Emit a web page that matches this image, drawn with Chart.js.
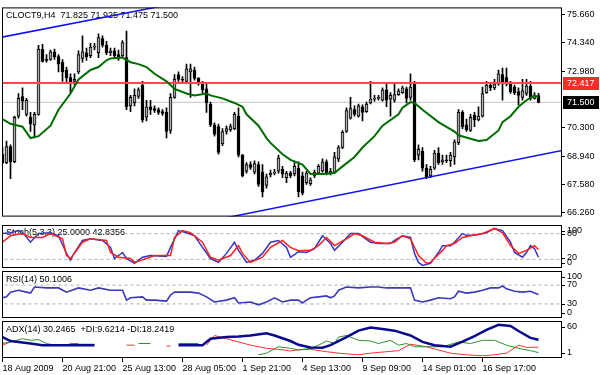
<!DOCTYPE html>
<html>
<head>
<meta charset="utf-8">
<script src="https://cdn.jsdelivr.net/npm/chart.js@4.4.0/dist/chart.umd.min.js"></script>
<style>
html, body { margin: 0; padding: 0; background: #fff; }
#wrap { position: relative; width: 600px; height: 375px; overflow: hidden; background: #fff; }
#wrap canvas { position: absolute; left: 0; }
</style>
</head>
<body>
<div id="wrap">
  <canvas id="cMain" width="600" height="224" style="top:0px"></canvas>
  <canvas id="cStoch" width="600" height="46" style="top:224px"></canvas>
  <canvas id="cRsi" width="600" height="50" style="top:270px"></canvas>
  <canvas id="cAdx" width="600" height="55" style="top:320px"></canvas>
</div>
<script>
// CLOCT9 H4 candles, one entry per bar (bar 0 = 18 Aug 2009)
const opens = [
  69.03,68.63,69.39,68.67,70.84,71.78,70.93,70.79,70.43,70.93,
  74.04,73.54,73.54,73.90,73.68,73.41,73.04,72.68,72.50,72.95,
  73.59,73.86,73.72,74.13,73.86,74.53,74.22,73.86,73.95,73.77,
  73.72,73.63,71.33,71.47,71.78,72.32,70.79,71.29,71.20,71.15,
  71.06,71.02,70.16,71.74,72.82,72.59,72.50,72.95,73.04,72.64,
  72.41,72.14,71.42,70.43,70.34,69.53,70.11,70.20,70.25,70.84,
  68.99,68.22,68.54,68.18,68.54,68.18,67.54,68.04,68.13,68.22,
  68.31,67.91,68.13,68.09,68.36,68.00,67.68,67.63,68.00,68.13,
  68.22,68.67,68.13,68.18,68.81,69.35,70.11,70.75,71.15,70.84,
  71.29,71.06,71.47,71.65,71.69,71.60,72.10,71.65,71.60,71.87,
  71.96,72.14,71.74,72.37,68.99,69.17,68.36,68.00,68.36,69.08,
  68.67,68.76,68.72,68.90,69.57,71.02,70.43,70.16,70.88,70.66,
  70.84,71.96,72.32,72.19,72.37,72.82,72.68,72.41,72.23,72.01,
  71.74,71.92,72.28,71.69,71.825
];
const highs = [
  69.35,69.66,69.48,70.84,71.92,72.19,71.69,71.02,71.02,74.22,
  74.26,73.77,73.99,74.04,73.77,73.54,73.18,72.86,72.86,73.95,
  74.67,74.08,74.31,74.31,74.76,74.67,74.40,74.08,74.08,73.99,
  74.44,74.89,71.83,72.14,72.19,72.50,71.60,71.60,71.33,71.24,
  71.15,71.24,71.92,72.82,72.95,72.73,73.32,73.32,73.18,72.68,
  72.50,72.37,71.51,70.52,70.47,70.25,70.38,70.47,71.02,71.24,
  69.03,68.63,68.67,68.72,68.67,68.54,68.09,68.27,68.31,68.99,
  68.45,68.22,68.22,68.63,68.67,68.18,68.22,67.91,68.27,68.54,
  68.81,68.76,68.36,69.12,69.44,70.16,71.24,71.74,71.33,71.42,
  71.38,71.51,72.50,71.83,71.83,72.19,72.37,71.96,72.37,72.14,
  72.28,72.23,72.86,72.50,69.48,69.35,68.54,68.45,69.21,69.35,
  68.99,68.99,69.12,69.71,71.15,71.11,70.70,70.93,71.02,71.29,
  72.23,72.50,72.41,72.59,73.04,73.13,73.13,72.50,72.32,72.19,
  72.59,72.59,72.50,71.96,71.925
];
const lows = [
  68.58,68.58,67.86,68.63,70.75,71.15,70.84,70.11,69.80,70.88,
  73.41,73.41,73.50,73.54,72.95,72.50,72.41,71.96,72.32,72.86,
  73.41,73.50,73.63,73.99,73.63,74.13,73.77,73.72,73.63,73.50,
  73.63,71.15,71.06,71.33,71.69,70.56,70.61,70.93,71.02,70.93,
  70.88,69.80,70.02,71.69,72.50,72.46,72.46,71.74,72.55,72.32,
  71.96,71.02,70.34,69.89,69.03,69.44,69.98,70.11,70.20,68.90,
  67.95,68.13,68.31,68.09,67.50,67.00,67.41,67.95,68.04,68.13,
  67.91,67.68,67.91,68.00,67.00,67.09,67.59,67.54,67.91,68.09,
  68.18,68.04,68.04,68.13,68.67,69.30,70.07,70.70,70.84,70.79,
  70.61,71.02,71.42,71.56,71.60,71.56,71.29,70.84,71.51,71.83,
  71.92,71.47,71.60,68.67,68.76,68.22,67.86,67.91,68.31,68.54,
  68.54,68.63,68.45,68.54,69.48,70.25,70.11,70.11,70.34,70.61,
  70.79,71.92,72.05,72.10,72.32,71.60,72.28,71.92,71.87,71.38,
  71.60,71.83,71.60,71.65,71.475
];
const closes = [
  68.63,69.39,68.67,70.79,71.69,71.56,71.60,70.47,70.93,74.04,
  73.45,73.50,73.90,73.68,73.32,72.95,72.68,72.46,72.59,73.77,
  73.90,73.68,74.13,74.17,74.58,74.22,73.86,73.95,73.72,73.59,
  74.35,71.29,71.74,71.83,72.10,70.66,71.29,71.15,71.11,71.02,
  70.97,70.11,71.74,72.59,72.59,72.55,73.09,73.09,72.64,72.41,
  72.10,71.47,70.43,69.98,69.12,70.11,70.25,70.34,70.93,68.99,
  68.00,68.54,68.40,68.58,67.59,67.23,67.95,68.13,68.18,68.85,
  68.09,68.13,68.00,68.45,67.23,67.18,68.13,67.81,68.18,68.45,
  68.67,68.13,68.22,68.90,69.35,70.07,71.11,71.20,70.93,71.33,
  71.02,71.42,71.65,71.69,71.74,72.10,71.60,71.83,71.87,72.05,
  72.19,71.69,72.23,68.76,69.26,68.36,67.95,68.31,69.08,68.63,
  68.76,68.72,68.99,69.62,71.02,70.34,70.20,70.79,70.66,70.84,
  71.92,72.32,72.19,72.37,72.86,72.41,72.37,72.01,71.96,71.83,
  72.05,72.28,71.69,71.83,71.500
];

// moving average (green), read at bar indexes
const maIdx = [0,2,5,7,9,12,14,17,19,22,24,26,27,30,32,34,36,38,41,43,46,48,51,52,55,58,60,61,64,66,
  67,70,72,75,77,80,83,85,88,90,93,95,99,100,102,103,105,109,113,114,119,121,124,125,127,129,131,133,134];
const maVal = [70.70,70.48,70.34,69.80,69.89,70.39,71.15,71.92,72.59,73.04,73.18,73.50,73.59,73.63,73.41,
  73.32,73.18,72.86,72.50,72.14,71.92,71.83,71.92,71.83,71.69,71.47,71.29,70.93,70.39,69.80,
  69.57,69.03,68.76,68.54,68.09,68.09,68.13,68.45,68.90,69.35,69.89,70.39,70.93,71.24,71.51,
  71.47,71.15,70.56,70.11,69.93,69.66,69.71,70.16,70.56,70.84,71.29,71.60,71.83,71.74];

// trend lines (bar index, price)
const trend1X = [-0.25, 49.5];
const trend1Y = [74.60, 76.44];
const trend2X = [50, 141];
const trend2Y = [65.78, 69.25];
const resistLevel = 72.417;
const lastPrice = 71.500;
const priceTicks = [75.66, 74.34, 72.98, 70.30, 68.94, 67.58, 66.26];

// Stochastic (5,3,3)
const stochKIdx = [0,2,4,5,7,9,12,14,16,17,18,20,22,25,27,28,30,31,33,35,37,41,42,44,46,48,50,52,54,56,
  58,59,61,63,65,67,69,71,72,74,76,78,80,82,83,85,87,89,92,94,97,98,100,102,103,104,105,107,109,110,
  112,113,115,116,118,121,123,125,127,128,130,131,132,133,134];
const stochK = [80,82,87,83,60,80,82,75,34,18,36,64,68,64,48,22,36,22,11,25,29,27,48,87,82,75,48,22,13,34,
  60,41,13,18,34,60,64,48,25,38,36,45,75,57,41,60,80,80,60,57,57,64,75,71,34,13,6,11,36,52,
  52,60,80,76,76,82,92,87,60,36,25,36,52,45,25];
const stochDIdx = [0,2,5,7,10,12,15,16,17,20,22,26,27,29,32,33,36,38,42,43,45,47,50,52,54,57,59,60,62,65,
  67,70,72,74,77,79,81,83,86,88,90,93,96,98,100,102,104,106,107,110,111,113,115,117,120,123,125,127,129,131,133,134];
const stochD = [60,75,80,71,71,80,68,29,22,60,68,64,36,25,22,13,22,29,29,71,87,82,60,25,18,29,52,34,13,25,
  48,64,48,40,41,52,71,52,68,80,75,60,57,60,75,68,29,11,13,41,52,57,71,75,80,92,82,52,34,41,52,42.84];

// RSI(14)
const rsiIdx = [0,1,2,4,6,7,8,11,14,16,19,22,24,27,30,31,32,35,36,38,41,42,43,47,49,51,53,56,58,59,
  62,64,66,68,70,72,74,75,76,77,79,81,82,83,84,86,89,92,94,96,97,100,101,102,103,105,107,109,112,113,
  114,116,118,120,122,124,125,126,128,130,132,133,134];
const rsiVal = [43,45,55,59,55,53,66,64,64,55,64,59,64,59,59,38,43,45,38,38,36,49,55,55,53,45,34,38,43,32,
  34,28,34,43,34,38,38,32,38,43,45,47,43,47,59,66,64,66,66,64,64,64,64,64,38,34,38,43,41,45,
  57,53,55,59,64,64,68,62,57,55,57,53,50.1];

// ADX(14) with +DI / -DI (null = no line drawn)
const adxIdx = [0,2,4,7,10,14,18,23,24,44,50,52,56,59,62,66,68,72,74,77,80,82,86,89,92,95,98,102,105,108,
  112,115,118,121,124,127,129,132,134];
const adxVal = [34.3,28.1,26.6,24.1,21.5,21.5,21.5,21.5,null,21.5,21.5,31.8,34.3,35.3,36.9,40.4,36.9,28.1,22,17.9,
  17.3,21.5,34.3,44.6,49.7,47.2,44.6,36.9,26.6,21.5,18.9,27,36,46,54,52,44,33,30.25];
const pdiIdx = [0,3,5,7,9,11,13,14,19,23,24,34,37,38,44,49,50,64,66,69,72,74,77,79,81,83,84,86,89,92,
  94,97,99,101,103,106,110,114,117,120,123,126,129,132,134];
const pdiVal = [24,28,31.8,29.2,30.3,24.1,21.5,null,23,23,null,24.1,24.1,null,24.1,24.1,null,6.1,8.7,18.9,
  16.4,13.8,16.4,21.5,28.1,24.1,34.3,36.9,29.2,28.1,24.1,29.2,21.5,24.1,18.9,18.9,18.9,26.6,24.1,29.2,
  29.2,21.5,16.4,12.7,9.62];
const mdiIdx = [0,2,3,13,16,17,19,20,31,33,34,41,42,43,51,53,56,59,62,66,69,72,74,77,81,84,89,92,96,99,
  102,106,109,112,116,120,123,126,129,131,134];
const mdiVal = [21.5,26.6,null,21.5,21.5,24.1,24.1,null,21.5,21.5,null,20,20,null,21.5,36.9,31.8,26.6,21.5,16.4,
  14.8,12.2,14,14.8,11.1,8.7,6.1,8.7,11.1,12.7,23,18.9,13.8,8.7,6.1,4.5,6.1,8.7,21.5,17.9,18.24];

// time axis
const timeBars = [0, 15, 30, 45, 60, 75, 90, 105, 120];
const timeLabels = ['18 Aug 2009','20 Aug 21:00','25 Aug 13:00','28 Aug 05:00','1 Sep 21:00',
  '4 Sep 13:00','9 Sep 09:00','14 Sep 01:00','16 Sep 17:00'];

Chart.defaults.font.family = '"Liberation Sans", Arial, sans-serif';
Chart.defaults.font.size = 9;
Chart.defaults.color = '#000';

const FONT = '9px "Liberation Sans", Arial, sans-serif';
const X_MIN = -0.125, X_MAX = 139.875;
const spanX = [-1, 141];

function pts(xs, ys) { return xs.map((x, k) => ({ x: x, y: ys[k] })); }
function line(data, color, width, extra) {
  return Object.assign({ type: 'line', data: data, borderColor: color, borderWidth: width,
    pointRadius: 0, fill: false, tension: 0, spanGaps: false }, extra || {});
}

// panel frame, titles, right side labels
const mtPanel = {
  id: 'mtPanel',
  beforeDatasetsDraw(chart, args, o) {
    if (!o.title) return;
    const ctx = chart.ctx, a = chart.chartArea;
    ctx.save();
    ctx.font = FONT; ctx.fillStyle = '#000'; ctx.textBaseline = 'middle';
    ctx.fillText(o.title, a.left + 4, a.top + o.titleDy);
    ctx.restore();
  },
  afterDraw(chart, args, o) {
    const ctx = chart.ctx, a = chart.chartArea, ys = chart.scales.y;
    ctx.save();
    ctx.strokeStyle = '#000'; ctx.lineWidth = 1;
    ctx.strokeRect(a.left + 0.5, a.top + 0.5, a.right - a.left - 1, a.bottom - a.top - 1);
    ctx.font = FONT; ctx.textBaseline = 'middle'; ctx.fillStyle = '#000';
    (o.side || []).forEach(s => {
      const py = Math.round(ys.getPixelForValue(s.v) + s.dy);
      ctx.beginPath(); ctx.moveTo(a.right, py + 0.5); ctx.lineTo(a.right + 3, py + 0.5); ctx.stroke();
      ctx.fillText(s.t, a.right + 5, py);
    });
    (o.boxes || []).forEach(b => {
      const py = Math.round(ys.getPixelForValue(b.v));
      ctx.fillStyle = b.bg; ctx.fillRect(a.right + 1, py - 6, 36, 13);
      ctx.fillStyle = '#fff'; ctx.fillText(b.t, a.right + 5, py + 0.5);
    });
    ctx.restore();
  }
};

function hiddenX() {
  return { type: 'linear', min: X_MIN, max: X_MAX, offset: false, display: false,
    grid: { offset: false } };
}
function sideY(min, max) {
  return { position: 'right', min: min, max: max, afterFit: s => { s.width = 38; },
    ticks: { display: false }, grid: { display: false }, border: { display: false } };
}
function baseOptions(pad, scales, plug) {
  return {
    responsive: false, animation: false, events: [],
    layout: { padding: pad },
    plugins: { legend: { display: false }, tooltip: { enabled: false }, mtPanel: plug },
    scales: scales
  };
}

// main price panel
const bodyColors = opens.map((o, i) => closes[i] >= o ? '#a9a9a9' : '#000000');
new Chart(document.getElementById('cMain'), {
  type: 'bar',
  data: { datasets: [
    line(pts(maIdx, maVal), '#006c00', 2, { order: 0 }),
    line(pts(trend1X, trend1Y), '#1010ff', 1.5, { order: 1 }),
    line(pts(trend2X, trend2Y), '#1010ff', 1.5, { order: 1 }),
    line(pts(spanX, [resistLevel, resistLevel]), '#ff4848', 2, { order: 2 }),
    { type: 'bar', data: opens.map((o, i) => ({ x: i, y: [o, closes[i]] })),
      backgroundColor: bodyColors, borderColor: '#000', borderWidth: 1, borderSkipped: false,
      barThickness: 3, grouped: false, minBarLength: 1, order: 3 },
    { type: 'bar', data: lows.map((l, i) => ({ x: i, y: [l, highs[i]] })),
      backgroundColor: '#000', barThickness: 1, grouped: false, order: 4 },
    line(pts(spanX, [lastPrice, lastPrice]), '#c4c4c4', 1, { order: 5 })
  ]},
  options: baseOptions({ left: 2, top: 2, right: 0, bottom: 1 }, {
    x: hiddenX(),
    y: { position: 'right', min: 66.06, max: 76.02,
      afterFit: s => { s.width = 38; },
      afterBuildTicks: s => { s.ticks = priceTicks.map(v => ({ value: v })); },
      ticks: { color: '#000', padding: 2, callback: v => Number(v).toFixed(3) },
      grid: { drawOnChartArea: false, drawTicks: true, tickLength: 3, color: '#000' },
      border: { display: false } }
  }, { title: 'CLOCT9,H4  71.825 71.925 71.475 71.500', titleDy: 8,
       boxes: [ { v: resistLevel, t: '72.417', bg: '#ff2a2a' }, { v: lastPrice, t: '71.500', bg: '#000' } ] }),
  plugins: [mtPanel]
});

// stochastic panel
new Chart(document.getElementById('cStoch'), {
  type: 'line',
  data: { datasets: [
    line(pts(stochKIdx, stochK), '#3535c0', 1.5, { order: 1 }),
    line(pts(stochDIdx, stochD), '#ff2020', 1.5, { order: 0 }),
    line(pts(spanX, [80, 80]), '#b0b0b0', 1, { borderDash: [3, 3], order: 5 }),
    line(pts(spanX, [20, 20]), '#b0b0b0', 1, { borderDash: [3, 3], order: 5 })
  ]},
  options: baseOptions({ left: 2, top: 1, right: 0, bottom: 2 }, { x: hiddenX(), y: sideY(0, 100) },
    { title: 'Stoch(5,3,3) 25.0000 42.8356', titleDy: 8,
      side: [ { v: 100, t: '100', dy: 6 }, { v: 80, t: '80', dy: 0 }, { v: 20, t: '20', dy: -1 }, { v: 0, t: '0', dy: -5 } ] }),
  plugins: [mtPanel]
});

// RSI panel
new Chart(document.getElementById('cRsi'), {
  type: 'line',
  data: { datasets: [
    line(pts(rsiIdx, rsiVal), '#3a3ab8', 1.6, { order: 0 }),
    line(pts(spanX, [70, 70]), '#b0b0b0', 1, { borderDash: [3, 3], order: 5 }),
    line(pts(spanX, [30, 30]), '#b0b0b0', 1, { borderDash: [3, 3], order: 5 })
  ]},
  options: baseOptions({ left: 2, top: 1, right: 0, bottom: 2 }, { x: hiddenX(), y: sideY(0, 100) },
    { title: 'RSI(14) 50.1006', titleDy: 9,
      side: [ { v: 100, t: '100', dy: 6 }, { v: 70, t: '70', dy: 0 }, { v: 30, t: '30', dy: 0 }, { v: 0, t: '0', dy: -5 } ] }),
  plugins: [mtPanel]
});

// ADX panel with time axis
new Chart(document.getElementById('cAdx'), {
  type: 'line',
  data: { datasets: [
    line(pts(adxIdx, adxVal), '#0a0a8c', 2.5, { order: 0 }),
    line(pts(pdiIdx, pdiVal), '#2f8f2f', 1, { order: 1 }),
    line(pts(mdiIdx, mdiVal), '#ff3030', 1, { order: 2 })
  ]},
  options: baseOptions({ left: 2, top: 1, right: 0, bottom: 0 }, {
    x: { type: 'linear', min: X_MIN, max: X_MAX, offset: false,
      afterBuildTicks: s => { s.ticks = timeBars.map(v => ({ value: v })); },
      afterFit: s => { s.height = 17; },
      ticks: { autoSkip: false, maxRotation: 0, minRotation: 0, align: 'start', padding: 1, color: '#000',
        callback: (v, i) => timeLabels[i] },
      grid: { drawOnChartArea: false, drawTicks: true, tickLength: 4, color: '#000' },
      border: { display: false } },
    y: sideY(1, 60)
  }, { title: 'ADX(14) 30.2465  +DI:9.6214 -DI:18.2419', titleDy: 9,
       side: [ { v: 60, t: '60', dy: 6 }, { v: 1, t: '1', dy: -5 } ] }),
  plugins: [mtPanel]
});
</script>
</body>
</html>
